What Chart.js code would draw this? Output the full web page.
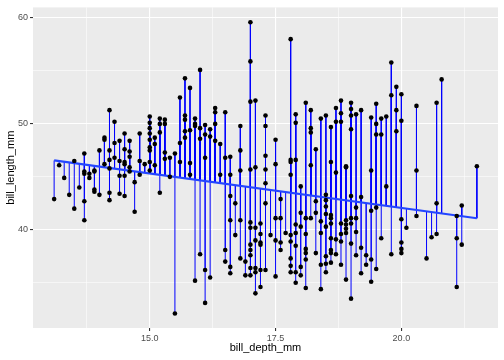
<!DOCTYPE html>
<html>
<head>
<meta charset="utf-8">
<script src="https://cdn.jsdelivr.net/npm/chart.js@4.4.1/dist/chart.umd.min.js"></script>
<style>
  html, body { margin: 0; padding: 0; background: #ffffff; }
  #wrap { width: 504px; height: 360px; }
</style>
</head>
<body>
<div id="wrap"><canvas id="chart" width="504" height="360"></canvas></div>
<script>
// bill depth (x) and the bill lengths observed at that depth (y)
const depthValues = [
  13.1, 13.2, 13.3, 13.4, 13.5, 13.6, 13.7, 13.8, 13.9, 14.0,
  14.1, 14.2, 14.3, 14.4, 14.5, 14.6, 14.7, 14.8, 14.9, 15.0,
  15.1, 15.2, 15.3, 15.4, 15.5, 15.6, 15.7, 15.8, 15.9, 16.0,
  16.1, 16.2, 16.3, 16.4, 16.5, 16.6, 16.7, 16.8, 16.9, 17.0,
  17.1, 17.2, 17.3, 17.4, 17.5, 17.6, 17.7, 17.8, 17.9, 18.0,
  18.1, 18.2, 18.3, 18.4, 18.5, 18.6, 18.7, 18.8, 18.9, 19.0,
  19.1, 19.2, 19.3, 19.4, 19.5, 19.6, 19.7, 19.8, 19.9, 20.0,
  20.1, 20.3, 20.5, 20.6, 20.7, 20.8, 21.1, 21.2, 21.5
];
const lengthsAtDepth = [
  [42.9], [46.1], [44.9], [43.3], [46.5, 42.0], [44.0],
  [47.2, 45.5, 45.3, 42.7, 40.9], [45.3, 44.9], [45.6, 45.5, 43.8, 43.6], [47.5, 43.3],
  [48.7, 48.5, 46.2], [51.3, 47.5, 46.6, 45.8, 43.5, 42.8], [50.2, 48.2, 46.8],
  [48.4, 46.5, 45.1, 43.4], [49.1, 47.6, 46.4, 46.2, 45.1, 43.2], [48.4, 47.4, 46.9, 45.9, 45.5],
  [44.5, 41.7], [49.1, 46.5, 45.2], [46.2],
  [50.7, 50.1, 49.6, 49.1, 48.5, 47.8, 47.5, 46.4, 45.6],
  [48.7, 48.1, 46.1], [50.5, 50.0, 49.2, 43.5], [50.4, 50.0, 47.3, 46.7], [46.8, 45.0],
  [47.2, 32.1], [52.5, 48.2, 46.4], [54.3, 50.8, 50.4, 49.3, 48.7], [53.4, 49.4, 46.3, 45.2],
  [50.5, 50.0, 49.8, 35.2], [55.1, 49.6, 48.6, 37.7],
  [49.9, 49.0, 46.8, 36.2, 33.1], [49.5, 48.8, 35.5], [51.5, 51.1, 50.0, 48.4], [48.1, 45.2],
  [51.1, 46.8, 38.1, 37.0], [46.9, 45.2, 43.2, 40.9, 36.5, 35.9], [42.5, 39.5],
  [49.8, 47.5, 45.6, 40.9, 37.3], [37.0, 35.7],
  [59.6, 55.9, 52.1, 45.7, 40.7, 40.2, 38.6, 38.1, 37.6, 36.4, 35.7],
  [52.2, 45.9, 40.2, 39.0, 36.4, 36.0, 34.0], [40.6, 39.6, 38.8, 38.6, 36.2, 34.6],
  [50.8, 49.8, 47.0, 45.7, 44.4, 42.5, 36.2], [39.5], [48.5, 46.2, 41.1, 39.0, 35.6],
  [42.9, 41.1, 38.8, 38.1], [39.7], [58.0, 46.6, 46.4, 45.2, 39.5, 38.9, 37.3, 36.6, 36.0],
  [50.9, 50.1, 46.6, 40.5, 39.7, 38.5, 36.0, 35.0], [44.1, 41.6, 40.3, 36.5, 35.7],
  [52.0, 41.1, 39.6, 38.2, 37.8, 37.2, 34.5], [51.3, 49.6, 49.2, 46.1, 41.1],
  [47.6, 42.7, 41.6, 37.8], [50.5, 40.8, 39.7, 36.7, 34.4],
  [50.8, 43.3, 42.8, 42.2, 41.5, 40.3, 37.5, 36.8, 36.0],
  [49.7, 46.4, 41.4, 41.1, 40.6, 39.2, 38.1, 37.8, 36.9], [51.5, 50.2, 45.4, 39.1, 37.7],
  [52.2, 51.0, 50.2, 40.6, 39.6, 38.9, 36.7], [46.0, 45.9, 40.9, 40.5, 40.1, 39.7, 35.3],
  [52.0, 51.4, 50.8, 49.5, 43.2, 41.1, 40.6, 38.7, 33.5],
  [50.9, 42.1, 41.1, 39.8, 37.6], [51.3, 43.1, 38.3, 35.9], [37.6, 36.7],
  [50.6, 45.6, 41.8, 37.2, 35.1], [51.9, 50.0, 49.0, 42.1, 36.3], [50.5, 49.0, 39.2],
  [50.7, 44.1], [55.8, 52.7, 37.7], [53.5, 51.3, 49.3], [52.8, 50.3, 41.0, 38.8, 38.2, 37.8],
  [40.2], [51.7, 45.6, 41.3], [37.3], [39.3], [52.0, 42.5, 39.6], [54.2],
  [41.3, 39.2, 34.6], [42.3, 38.6], [46.0]
];

// ends of the fitted line
const fitDepth = [13.1, 21.5];
const fitLength = [46.55, 41.09];

const xTickValues = [13.75, 15, 16.25, 17.5, 18.75, 20, 21.25];
const xTickLabels = ['', '15.0', '', '17.5', '', '20.0', ''];
const yTickValues = [35, 40, 45, 50, 55, 60];
const yTickLabels = ['', '40', '', '50', '', '60'];

const fitAt = (d) => fitLength[0] + (d - fitDepth[0]) * (fitLength[1] - fitLength[0]) / (fitDepth[1] - fitDepth[0]);

const points = [];
const segments = [];
depthValues.forEach((d, i) => {
    lengthsAtDepth[i].forEach(len => {
        points.push({ x: d, y: len });
        segments.push({ x: d, y: len }, { x: d, y: fitAt(d) }, { x: d, y: null });
    });
});

// grey ggplot panel behind the data
const panelBackground = {
    id: 'panelBackground',
    beforeDraw(chart) {
        const { ctx, chartArea } = chart;
        ctx.save();
        ctx.fillStyle = '#EBEBEB';
        ctx.fillRect(chartArea.left, chartArea.top, chartArea.right - chartArea.left, chartArea.bottom - chartArea.top);
        ctx.restore();
    }
};

const isMajorX = (ctx) => xTickLabels[ctx.index] !== '';
const isMajorY = (ctx) => yTickLabels[ctx.index] !== '';

Chart.defaults.font.family = '"Liberation Sans", Arial, sans-serif';

const chart = new Chart(document.getElementById('chart').getContext('2d'), {
    type: 'scatter',
    data: {
        datasets: [
            {
                label: 'points',
                data: points,
                backgroundColor: '#000000',
                borderColor: '#000000',
                pointRadius: 2.3,
                borderWidth: 0
            }, {
                label: 'fit',
                data: fitDepth.map((d, i) => ({ x: d, y: fitLength[i] })),
                showLine: true,
                borderColor: '#2446FF',
                borderWidth: 2.2,
                pointRadius: 0
            }, {
                label: 'residuals',
                data: segments,
                showLine: true,
                spanGaps: false,
                borderColor: '#0000FF',
                borderWidth: 1,
                pointRadius: 0
            }
        ]
    },
    options: {
        responsive: false,
        animation: false,
        layout: { padding: { top: 5, right: 6, left: 0, bottom: 0 } },
        plugins: {
            legend: { display: false },
            tooltip: { enabled: false }
        },
        scales: {
            x: {
                type: 'linear',
                min: 12.68,
                max: 21.92,
                afterBuildTicks: scale => { scale.ticks = xTickValues.map(v => ({ value: v })); },
                afterFit: scale => { scale.height = 32; },
                border: { display: false },
                grid: {
                    color: '#FFFFFF',
                    lineWidth: ctx => isMajorX(ctx) ? 1.1 : 0.55,
                    tickLength: 3,
                    tickColor: ctx => isMajorX(ctx) ? '#333333' : 'rgba(0,0,0,0)'
                },
                ticks: {
                    autoSkip: false,
                    maxRotation: 0,
                    padding: 2,
                    color: '#4D4D4D',
                    font: { size: 9 },
                    callback: (value, index) => xTickLabels[index]
                },
                title: {
                    display: true,
                    text: 'bill_depth_mm',
                    color: '#000000',
                    font: { size: 11 },
                    padding: { top: 0, bottom: 5 }
                }
            },
            y: {
                type: 'linear',
                min: 30.73,
                max: 61.0,
                afterBuildTicks: scale => { scale.ticks = yTickValues.map(v => ({ value: v })); },
                afterFit: scale => { scale.width = 33; },
                border: { display: false },
                grid: {
                    color: '#FFFFFF',
                    lineWidth: ctx => isMajorY(ctx) ? 1.1 : 0.55,
                    tickLength: 3,
                    tickColor: ctx => isMajorY(ctx) ? '#333333' : 'rgba(0,0,0,0)'
                },
                ticks: {
                    autoSkip: false,
                    padding: 2,
                    color: '#4D4D4D',
                    font: { size: 9 },
                    callback: (value, index) => yTickLabels[index]
                },
                title: {
                    display: true,
                    text: 'bill_length_mm',
                    color: '#000000',
                    font: { size: 11 },
                    padding: { top: 4, bottom: 0 }
                }
            }
        }
    },
    plugins: [panelBackground]
});
</script>
</body>
</html>
